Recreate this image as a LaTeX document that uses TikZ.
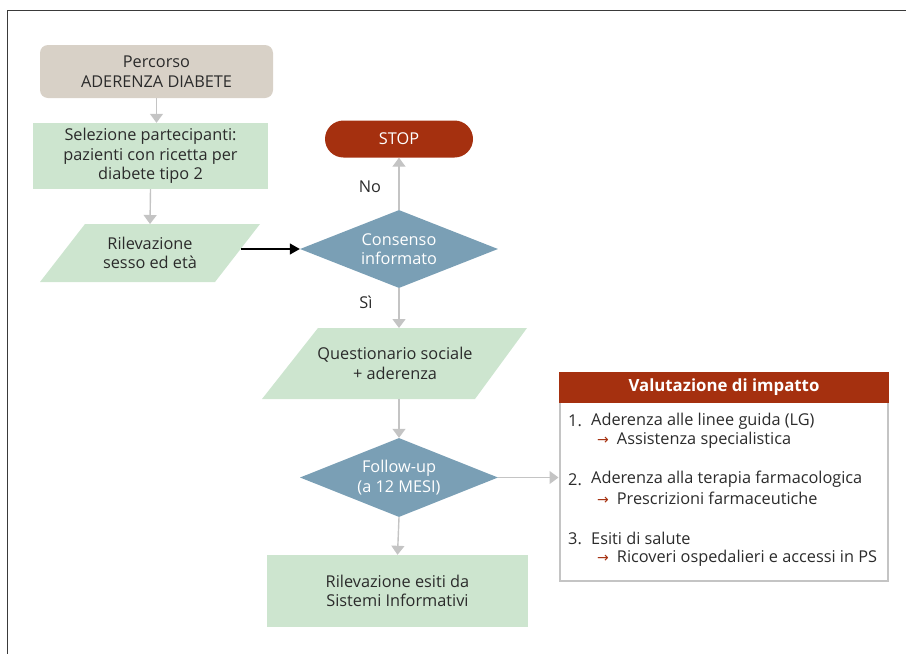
\documentclass[tikz,border=0pt]{standalone}
\usepackage{fontspec}
\setmainfont{Open Sans}
\newfontfamily\symfont{DejaVu Sans}
\usetikzlibrary{arrows.meta,shapes.geometric}
\definecolor{beige}{HTML}{D8D1C7}
\definecolor{lgreen}{HTML}{CDE5CF}
\definecolor{dblue}{HTML}{7A9FB5}
\definecolor{dred}{HTML}{A5300F}
\definecolor{lgray}{HTML}{C4C4C4}
\definecolor{txt}{HTML}{2B2B2B}
\definecolor{frame}{HTML}{3A3A3A}
\newcommand{\redarrow}{{\symfont\fontsize{14}{14}\selectfont\textcolor{dred}{→}}\hspace{8pt}}
\begin{document}
\begin{tikzpicture}[x=1pt,y=-1pt,
  font=\fontsize{16.3}{19.5}\selectfont, text=txt,
  box/.style={draw=none, align=center, inner sep=0pt},
  dia/.style={diamond, draw=none, fill=dblue, text=white, align=center, inner sep=0pt,
              minimum width=198pt, minimum height=78pt, aspect=2.54},
  garrow/.style={draw=lgray, line width=1.4pt, -{Triangle[width=13pt,length=9pt]}},
  barrow/.style={draw=black, line width=1.2pt, -{Triangle[width=11pt,length=10pt]}},
  item/.style={anchor=west, inner sep=0pt}]
\useasboundingbox (0,0) rectangle (906,654);
% frame
\draw[frame, line width=1.3pt] (7.5,654) -- (7.5,10.5) -- (906,10.5);

% start box
\node[box, fill=beige, rounded corners=8pt, minimum width=233pt, minimum height=53pt] (perc) at (156.5,71.5) {Percorso\\ADERENZA DIABETE};
% selection
\node[box, fill=lgreen, minimum width=235pt, minimum height=66pt] (sel) at (150.5,156) {Selezione partecipanti:\\pazienti con ricetta per\\diabete tipo 2};
% Rilevazione parallelogram
\fill[lgreen] (85,224) -- (260,224) -- (215,282) -- (40,282) -- cycle;
\node[box] (ril) at (150,253) {Rilevazione\\sesso ed età};
\coordinate (rilN) at (150,224);
\coordinate (rilE) at (241,249);
% consenso
\node[dia] (cons) at (399,249) {Consenso\\informato};
% stop
\node[box, fill=dred, text=white, rounded corners=18.5pt, minimum width=148pt, minimum height=37pt] (stop) at (399,139) {STOP};
% questionario parallelogram
\fill[lgreen] (318,328) -- (527,328) -- (475,399) -- (262,399) -- cycle;
\node[box] (quest) at (395,363.5) {Questionario sociale\\+ aderenza};
\coordinate (questN) at (399,328);
\coordinate (questS) at (399,399);
% follow-up
\node[dia, minimum height=79pt] (fu) at (399,477.5) {Follow-up\\(a 12 MESI)};
% esiti
\node[box, fill=lgreen, minimum width=261pt, minimum height=72pt] (esiti) at (397.5,591) {Rilevazione esiti da\\Sistemi Informativi};

% valutazione
\draw[lgray, line width=2.2pt] (560,400) -- (560,581) -- (888,581) -- (888,400);
\node[box, fill=dred, text=white, minimum width=330pt, minimum height=31pt, font=\fontsize{16.8}{18}\selectfont\bfseries] (val) at (724,387.5) {Valutazione di impatto};
\coordinate (valW) at (558.5,477.5);

\node[item] (n1) at (568,421) {1.};
\node[item] (t1) at (591,421) {Aderenza alle linee guida (LG)};
\node[item] (s1) at (597,440) {\redarrow Assistenza specialistica};
\node[item] (n2) at (568,479.5) {2.};
\node[item] (t2) at (591,479.5) {Aderenza alla terapia farmacologica};
\node[item] (s2) at (597,498.5) {\redarrow Prescrizioni farmaceutiche};
\node[item] (n3) at (568,538.5) {3.};
\node[item] (t3) at (591,538.5) {Esiti di salute};
\node[item] (s3) at (597,558) {\redarrow Ricoveri ospedalieri e accessi in PS};

% connectors
\draw[garrow] (perc.south) -- (perc.south |- sel.north);
\draw[garrow] (sel.south) -- (rilN);
\draw[barrow] (rilE) -- (cons.west);
\draw[garrow] (cons.north) -- (stop.south);
\draw[garrow] (cons.south) -- (questN);
\draw[garrow] (questS) -- (fu.north);
\draw[garrow] (fu.south) -- (esiti.north);
\draw[garrow, line width=1.2pt] (fu.east) -- (valW);

\node[inner sep=0pt] (no) at (370,187) {No};
\node[inner sep=0pt] (si) at (366,302) {Sì};
\end{tikzpicture}
\end{document}
